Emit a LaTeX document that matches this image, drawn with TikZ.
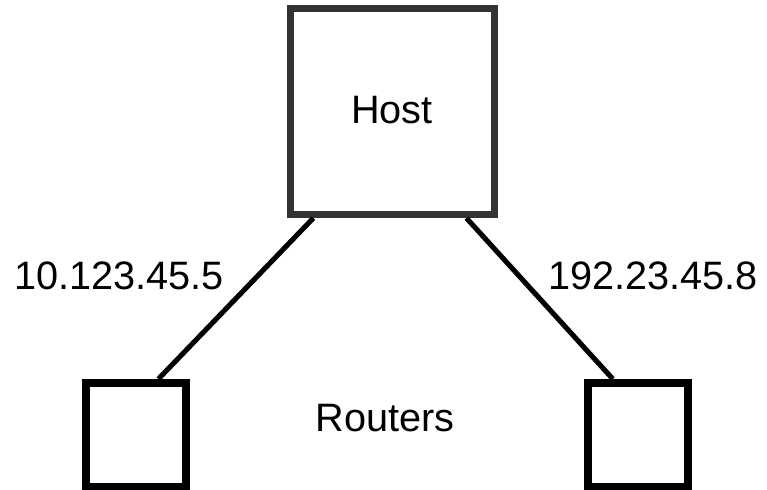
\documentclass[tikz,border=0pt]{standalone}
\usepackage{fontspec}
\setmainfont{Liberation Sans}
\usetikzlibrary{positioning}

\begin{document}
\begin{tikzpicture}[
  x=0.025cm, y=-0.025cm,
  every node/.style={align=center},
  %% styles
  hostbox/.style={draw=black!80, line width=5pt, minimum width=5.1cm, minimum height=5.15cm, inner sep=0pt},
  routerbox/.style={draw=black, line width=5.7pt, minimum width=2.5cm, minimum height=2.6cm, inner sep=0pt},
  label/.style={font=\fontsize{28.2}{33}\selectfont, inner sep=0pt},
  link/.style={line width=3.6pt, color=black}
]
  \useasboundingbox (0,0) rectangle (767,489);

  %% nodes
  \node[hostbox] (host) at (392.5,111.5) {};
  \node[label] (hostname) at (392,110) {Host};
  \node[routerbox] (rleft) at (136,435) {};
  \node[routerbox] (rright) at (638,435) {};
  \node[label] (routers) at (385,418) {Routers};

  %% addresses
  \node[label] (addrleft) at (119,276) {10.123.45.5};
  \node[label] (addrright) at (653,276) {192.23.45.8};

  %% links
  \draw[link] ([xshift=0.66cm]host.south west) -- ([xshift=0.56cm]rleft.north);
  \draw[link] ([xshift=-0.79cm]host.south east) -- ([xshift=-0.63cm]rright.north);

\end{tikzpicture}
\end{document}
